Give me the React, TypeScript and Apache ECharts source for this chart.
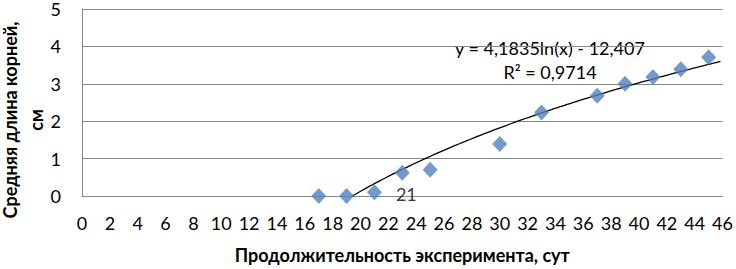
import React, { useEffect, useRef } from "react";
import * as echarts from "echarts";

// Data
const days = [17, 19, 21, 23, 25, 30, 33, 37, 39, 41, 43, 45];
const rootLength = [0, 0, 0.1, 0.62, 0.7, 1.39, 2.23, 2.68, 3.0, 3.18, 3.39, 3.71];
const xTicks = { min: 0, max: 46, interval: 2 };
const yTicks = { min: 0, max: 5, interval: 1 };
// Trendline coefficients shown on the chart
const trendA = 4.1835;
const trendB = -12.407;
const trendStart = 19.35;
const trendEnd = 46;
const equationText = "y = 4,1835ln(x) - 12,407";
const r2Text = "R² = 0,9714";
const xTitle = "Продолжительность эксперимента, сут";
const yTitle = "Средняя длина корней,\nсм";

export default function App() {
  const ref = useRef<HTMLDivElement>(null);
  useEffect(() => {
    document.body.style.margin = "0";
    if (!ref.current) return;
    const chart = echarts.init(ref.current, null, { renderer: "svg" });
    const trend: number[][] = [];
    for (let x = trendStart; x <= trendEnd + 1e-9; x += 0.25) {
      trend.push([x, trendA * Math.log(x) + trendB]);
    }
    const font = "Lato, 'Open Sans', sans-serif";
    chart.setOption({
      animation: false,
      textStyle: { fontFamily: font },
      grid: { left: 82, right: 9, top: 7, bottom: 69, containLabel: false },
      xAxis: {
        type: "value",
        min: xTicks.min,
        max: xTicks.max,
        interval: xTicks.interval,
        name: xTitle,
        nameLocation: "middle",
        nameGap: 50,
        nameTextStyle: { fontSize: 18, fontWeight: "bold", color: "#000", fontFamily: font },
        axisLine: { show: true, lineStyle: { color: "#868686", width: 1 } },
        axisTick: { show: false },
        splitLine: { show: false },
        axisLabel: { fontSize: 18, color: "#000", margin: 18, fontFamily: font },
      },
      yAxis: {
        type: "value",
        min: yTicks.min,
        max: yTicks.max,
        interval: yTicks.interval,
        axisLine: { show: true, lineStyle: { color: "#868686", width: 1 } },
        axisTick: { show: false },
        splitLine: { show: true, lineStyle: { color: "#868686", width: 1 } },
        axisLabel: { fontSize: 18, color: "#000", margin: 21, fontFamily: font },
      },
      graphic: [
        {
          type: "text",
          x: 23,
          y: 120,
          rotation: Math.PI / 2,
          style: {
            text: yTitle,
            fontSize: 18,
            fontWeight: "bold",
            fill: "#000",
            fontFamily: font,
            textAlign: "center",
            textVerticalAlign: "middle",
            lineHeight: 26,
          },
        },
        {
          type: "text",
          x: 550,
          y: 48,
          style: {
            text: equationText,
            fontSize: 18,
            fill: "#000",
            fontFamily: font,
            textAlign: "center",
            textVerticalAlign: "middle",
          },
        },
        {
          type: "text",
          x: 550,
          y: 72,
          style: {
            text: r2Text,
            fontSize: 18,
            fill: "#000",
            fontFamily: font,
            textAlign: "center",
            textVerticalAlign: "middle",
          },
        },
      ],
      series: [
        {
          type: "line",
          data: trend,
          showSymbol: false,
          smooth: false,
          lineStyle: { color: "#000", width: 1.3 },
          z: 3,
        },
        {
          type: "scatter",
          data: days.map((d, i) => {
            const item: any = { value: [d, rootLength[i]] };
            if (d === 21) {
              item.label = {
                show: true,
                position: "right",
                distance: 12,
                formatter: String(d),
                fontSize: 18,
                color: "#000",
                fontFamily: font,
                offset: [2, 2],
              };
            }
            return item;
          }),
          symbol: "diamond",
          symbolSize: [15, 16],
          itemStyle: { color: "#4f81bd" },
          z: 4,
        },
      ],
    });
    return () => chart.dispose();
  }, []);
  return <div ref={ref} style={{ width: 736, height: 269 }} />;
}
